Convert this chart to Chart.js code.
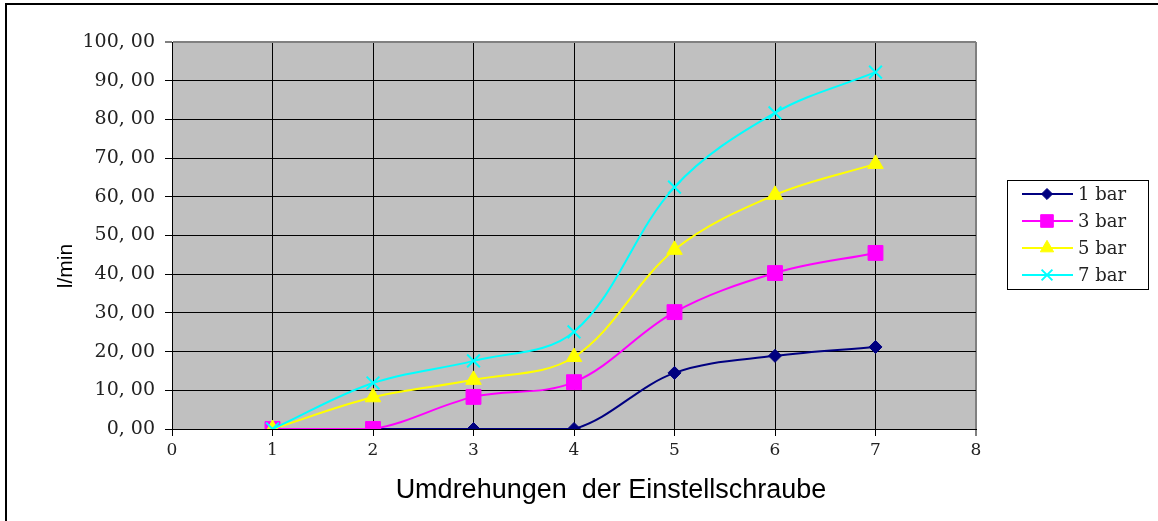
<!DOCTYPE html>
<html>
<head>
<meta charset="utf-8">
<script src="https://cdn.jsdelivr.net/npm/chart.js@4/dist/chart.umd.min.js"></script>
<style>
  html, body { margin: 0; padding: 0; background: #fff; }
  #wrap { position: relative; width: 1158px; height: 521px; }
</style>
</head>
<body>
<div id="wrap"><canvas id="c" width="1158" height="521"></canvas></div>
<script>
// ---- data ----
const xValues = [1, 2, 3, 4, 5, 6, 7];
const seriesNames = ['1 bar', '3 bar', '5 bar', '7 bar'];
const bar1 = [0, 0, 0, 0, 14.5, 18.9, 21.2];
const bar3 = [0, 0, 8.3, 12.1, 30.2, 40.3, 45.5];
const bar5 = [0, 8.2, 12.7, 18.6, 46.3, 60.5, 68.5];
const bar7 = [0, 11.9, 17.6, 25.1, 62.5, 81.7, 92.2];
const xTickValues = [0, 1, 2, 3, 4, 5, 6, 7, 8];
const yTickValues = [0, 10, 20, 30, 40, 50, 60, 70, 80, 90, 100];
const xTitle = 'Umdrehungen  der Einstellschraube';
const yTitle = 'l/min';

// ---- styles ----
const colors = ['#000080', '#FF00FF', '#FFFF00', '#00FFFF'];
const pointStyles = ['rectRot', 'rect', 'triangle', 'crossRot'];
const pointRadii = [6.5, 10.5, 9, 9];

const seriesValues = [bar1, bar3, bar5, bar7];
const datasets = seriesValues.map((vals, i) => ({
  label: seriesNames[i],
  data: xValues.map((x, j) => ({ x: x, y: vals[j] })),
  borderColor: colors[i],
  backgroundColor: colors[i],
  borderWidth: 2,
  pointStyle: pointStyles[i],
  pointRadius: pointRadii[i],
  pointHoverRadius: pointRadii[i],
  pointBackgroundColor: colors[i],
  pointBorderColor: colors[i],
  pointBorderWidth: i === 3 ? 2 : 1,
  tension: 0.35,
  fill: false,
  order: 4 - i
}));

const frame = {
  id: 'frame',
  beforeDraw(chart) {
    const { ctx, chartArea: a } = chart;
    ctx.save();
    ctx.fillStyle = '#ffffff';
    ctx.fillRect(0, 0, chart.width, chart.height);
    ctx.fillStyle = '#C0C0C0';
    ctx.fillRect(a.left, a.top, a.right - a.left, a.bottom - a.top);
    ctx.restore();
  },
  afterDraw(chart) {
    const { ctx } = chart;
    ctx.save();
    // outer frame (left and top edges visible)
    ctx.strokeStyle = '#000';
    ctx.lineWidth = 2;
    ctx.beginPath();
    ctx.moveTo(6, chart.height);
    ctx.lineTo(6, 4);
    ctx.lineTo(chart.width, 4);
    ctx.stroke();
    // axis titles
    ctx.fillStyle = '#000';
    ctx.font = '27px "Liberation Sans", Arial, sans-serif';
    ctx.textAlign = 'center';
    ctx.textBaseline = 'middle';
    ctx.fillText(xTitle, 611, 491);
    ctx.save();
    ctx.translate(66, 266);
    ctx.rotate(-Math.PI / 2);
    ctx.font = '21px "Liberation Sans", Arial, sans-serif';
    ctx.fillText(yTitle, 0, 0);
    ctx.restore();
    // legend
    const lx = 1007, ly = 180, lw = 141, lh = 109;
    ctx.fillStyle = '#fff';
    ctx.fillRect(lx, ly, lw, lh);
    ctx.strokeStyle = '#000';
    ctx.lineWidth = 1;
    ctx.strokeRect(lx + 0.5, ly + 0.5, lw, lh);
    const rows = [194, 221, 248, 275];
    chart.data.datasets.forEach((ds, i) => {
      const y = rows[i];
      ctx.strokeStyle = ds.borderColor;
      ctx.lineWidth = 2;
      ctx.beginPath();
      ctx.moveTo(1022, y);
      ctx.lineTo(1073, y);
      ctx.stroke();
      ctx.fillStyle = ds.pointBackgroundColor;
      ctx.strokeStyle = ds.pointBorderColor;
      ctx.lineWidth = ds.pointBorderWidth;
      Chart.helpers.drawPoint(ctx, {
        pointStyle: ds.pointStyle,
        radius: ds.pointRadius * 0.85,
        rotation: 0,
        borderWidth: ds.pointBorderWidth
      }, 1047, y);
      ctx.fillStyle = '#222';
      ctx.font = '18px "DejaVu Serif", serif';
      ctx.textAlign = 'left';
      ctx.textBaseline = 'middle';
      ctx.fillText(ds.label, 1078, y + 1);
    });
    ctx.restore();
  }
};

const edgeColor = (last) => (c) => (c.tick && c.tick.value === last ? '#808080' : '#000');
const edgeWidth = (last) => (c) => (c.tick && c.tick.value === last ? 2 : 1);

new Chart(document.getElementById('c'), {
  type: 'line',
  data: { datasets },
  plugins: [frame],
  options: {
    responsive: false,
    animation: false,
    events: [],
    layout: { padding: { top: 42, right: 182, bottom: 0, left: 0 } },
    plugins: { legend: { display: false }, tooltip: { enabled: false } },
    scales: {
      x: {
        type: 'linear',
        min: 0, max: 8,
        afterFit(s) { s.height = 92; },
        afterBuildTicks(s) { s.ticks = xTickValues.map(v => ({ value: v })); },
        grid: { color: edgeColor(8), lineWidth: edgeWidth(8), tickLength: 7, drawTicks: true },
        border: { display: true, color: '#000', width: 1 },
        ticks: {
          color: '#222',
          padding: 4,
          maxRotation: 0,
          font: { family: '"DejaVu Serif", serif', size: 17 },
          callback: v => String(v)
        }
      },
      y: {
        type: 'linear',
        min: 0, max: 100,
        afterFit(s) { s.width = 172; },
        afterBuildTicks(s) { s.ticks = yTickValues.map(v => ({ value: v })); },
        grid: { color: edgeColor(100), lineWidth: edgeWidth(100), tickLength: 7, drawTicks: true },
        border: { display: true, color: '#000', width: 1 },
        ticks: {
          color: '#222',
          padding: 10,
          font: { family: '"DejaVu Serif", serif', size: 19 },
          callback: v => Number(v).toFixed(2).replace('.', ', ')
        }
      }
    }
  }
});
</script>
</body>
</html>
